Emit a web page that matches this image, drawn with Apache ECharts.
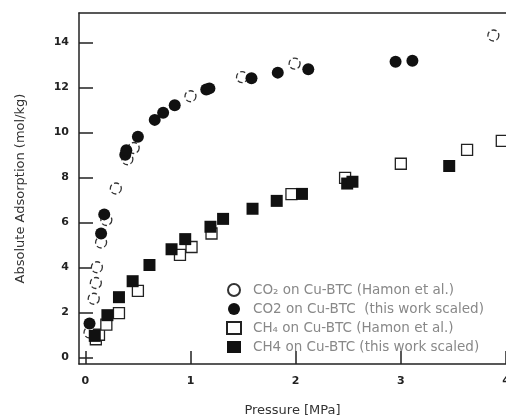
<!DOCTYPE html>
<html><head><meta charset="utf-8">
<script src="https://cdn.jsdelivr.net/npm/echarts@6/dist/echarts.min.js"></script>
<style>html,body{margin:0;padding:0;background:#fff}#c{width:506px;height:418px}</style>
</head><body><div id="c"></div>
<script>
var xTicks = [0, 1, 2, 3, 4];
var yTicks = [0, 2, 4, 6, 8, 10, 12, 14];
var seriesNames = [
  'CO\u2082 on Cu-BTC (Hamon et al.)',
  'CO2 on Cu-BTC  (this work scaled)',
  'CH\u2084 on Cu-BTC (Hamon et al.)',
  'CH4 on Cu-BTC (this work scaled)'
];
var co2Hamon = [[0.04,1.1],[0.08,2.6],[0.1,3.3],[0.11,4.0],[0.15,5.1],[0.2,6.1],[0.29,7.5],[0.4,8.8],[0.46,9.3],[1.0,11.6],[1.49,12.45],[1.99,13.05],[3.88,14.3]];
var co2Work = [[0.04,1.5],[0.15,5.5],[0.18,6.35],[0.38,9.0],[0.39,9.2],[0.5,9.8],[0.66,10.55],[0.74,10.87],[0.85,11.2],[1.15,11.9],[1.18,11.95],[1.58,12.4],[1.83,12.65],[2.12,12.8],[2.95,13.13],[3.11,13.18]];
var ch4Hamon = [[0.1,0.8],[0.13,1.0],[0.2,1.45],[0.32,1.96],[0.5,2.95],[0.9,4.55],[1.01,4.9],[1.2,5.5],[1.96,7.25],[2.47,7.97],[3.0,8.6],[3.63,9.22],[3.96,9.62]];
var ch4Work = [[0.09,0.95],[0.21,1.87],[0.32,2.67],[0.45,3.38],[0.61,4.1],[0.82,4.8],[0.95,5.25],[1.19,5.8],[1.31,6.15],[1.59,6.6],[1.82,6.95],[2.06,7.26],[2.49,7.72],[2.54,7.8],[3.46,8.5]];

var chart = echarts.init(document.getElementById('c'), null, {renderer:'canvas'});
var lab = {color:'#222', fontSize:11, fontWeight:'bold', fontFamily:'DejaVu Sans'};
chart.setOption({
  animation:false,
  backgroundColor:'#fff',
  grid:{left:79, top:13, right:0, bottom:54, outerBoundsMode:'none', containLabel:false},
  legend:{
    orient:'vertical', left:221, top:278, itemWidth:14, itemHeight:12, itemGap:5,
    textStyle:{color:'#888', fontSize:13.5, lineHeight:14, fontFamily:'DejaVu Sans', padding:[0,0,0,7]},
    data:seriesNames
  },
  xAxis:[{
    type:'value', min:-0.06, max:4.0, position:'bottom',
    name:'Pressure [MPa]', nameLocation:'middle', nameGap:40,
    nameTextStyle:{color:'#333', fontSize:13, fontFamily:'DejaVu Sans'},
    axisLine:{show:true, onZero:false, lineStyle:{color:'#222', width:1.5}},
    axisTick:{show:true, inside:true, length:13, customValues:xTicks, lineStyle:{color:'#222', width:1.5}},
    axisLabel:Object.assign({customValues:xTicks, margin:12, showMaxLabel:true, hideOverlap:false}, lab),
    splitLine:{show:false}
  },{
    type:'value', min:-0.06, max:4.0, position:'top',
    axisLine:{show:true, onZero:false, lineStyle:{color:'#222', width:1.5}},
    axisTick:{show:false}, axisLabel:{show:false}, splitLine:{show:false}
  }],
  yAxis:{
    type:'value', min:-0.3, max:15.3,
    name:'Absolute Adsorption (mol/kg)', nameLocation:'middle', nameGap:52,
    nameTextStyle:{color:'#333', fontSize:13, fontFamily:'DejaVu Sans'},
    axisLine:{show:true, onZero:false, lineStyle:{color:'#222', width:1.5}},
    axisTick:{show:true, inside:true, length:14, customValues:yTicks, lineStyle:{color:'#222', width:1.5}},
    axisLabel:Object.assign({customValues:yTicks, margin:10}, lab),
    splitLine:{show:false}
  },
  series:[
    {name:seriesNames[0], type:'scatter', data:co2Hamon, symbol:'circle', symbolSize:11, z:3,
     itemStyle:{color:'#fff', opacity:1, borderColor:'#333', borderWidth:1.3, borderType:'dashed'}},
    {name:seriesNames[1], type:'scatter', data:co2Work, symbol:'circle', symbolSize:12, z:4,
     itemStyle:{color:'#111', opacity:1}},
    {name:seriesNames[2], type:'scatter', data:ch4Hamon, symbol:'rect', symbolSize:11, z:3,
     itemStyle:{color:'#fff', opacity:1, borderColor:'#222', borderWidth:1.3}},
    {name:seriesNames[3], type:'scatter', data:ch4Work, symbol:'rect', symbolSize:12, z:4,
     itemStyle:{color:'#111', opacity:1}}
  ]
});
</script></body></html>
